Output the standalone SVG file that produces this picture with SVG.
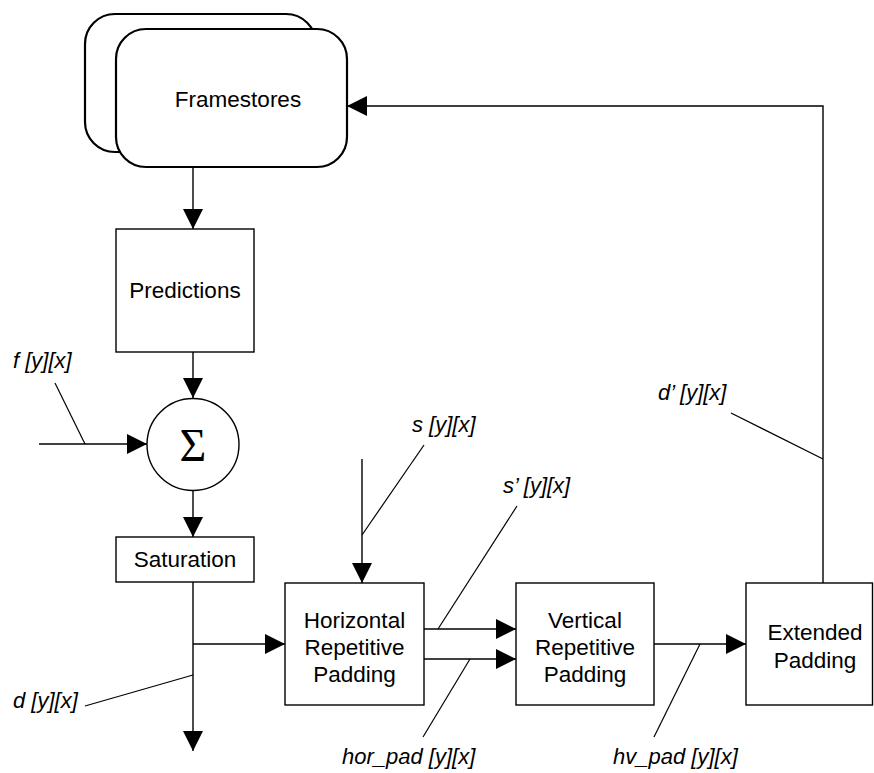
<svg xmlns="http://www.w3.org/2000/svg" width="874" height="773" viewBox="0 0 874 773">
<style>
.box{fill:#fff;stroke:#000;stroke-width:1.4}
.fs{fill:#fff;stroke:#000;stroke-width:2.2}
.t{font-family:"Liberation Sans",Arial,sans-serif;font-size:22.5px;fill:#000;text-anchor:middle}
.lbl{font-family:"Liberation Sans",Arial,sans-serif;font-size:22px;font-style:italic;fill:#000}
.ln{fill:none;stroke:#000;stroke-width:1.4}
.ld{fill:none;stroke:#000;stroke-width:1.2}
</style>
<defs>
<marker id="ah" markerUnits="userSpaceOnUse" markerWidth="20" markerHeight="20" viewBox="0 0 20 20" refX="20" refY="10" orient="auto">
<path d="M0,0 L20,10 L0,20 z" fill="#000"/>
</marker>
</defs>
<g id="framestores">
<rect class="fs" x="85" y="14" width="231" height="138" rx="30" ry="30"/>
<rect class="fs" x="116" y="29" width="231" height="138" rx="30" ry="30"/>
<text class="t" x="238" y="107">Framestores</text>
</g>
<g id="predictions">
<rect class="box" x="116" y="229" width="138" height="123"/>
<text class="t" x="185" y="298">Predictions</text>
</g>
<g id="sum">
<circle class="box" cx="193" cy="444.5" r="46"/>
<text x="193" y="461" font-family="'Liberation Serif','Times New Roman',serif" font-size="46" text-anchor="middle">Σ</text>
</g>
<g id="saturation">
<rect class="box" x="116" y="537" width="138" height="45"/>
<text class="t" x="185" y="567">Saturation</text>
</g>
<g id="horizontal">
<rect class="box" x="285" y="583" width="139" height="122"/>
<text class="t" x="354.5" y="628">Horizontal</text>
<text class="t" x="354.5" y="655">Repetitive</text>
<text class="t" x="354.5" y="682">Padding</text>
</g>
<g id="vertical">
<rect class="box" x="516" y="583" width="138" height="122"/>
<text class="t" x="585" y="628">Vertical</text>
<text class="t" x="585" y="655">Repetitive</text>
<text class="t" x="585" y="682">Padding</text>
</g>
<g id="extended">
<rect class="box" x="746" y="583" width="126.5" height="122"/>
<text class="t" x="815" y="640">Extended</text>
<text class="t" x="815" y="668">Padding</text>
</g>
<g id="connectors">
<path class="ln" d="M193,167 L193,229" marker-end="url(#ah)"/>
<path class="ln" d="M193,352 L193,398" marker-end="url(#ah)"/>
<path class="ln" d="M39,444 L147,444" marker-end="url(#ah)"/>
<path class="ln" d="M193,491 L193,537" marker-end="url(#ah)"/>
<path class="ln" d="M193,582 L193,751" marker-end="url(#ah)"/>
<path class="ln" d="M193,644 L285,644" marker-end="url(#ah)"/>
<path class="ln" d="M362,459 L362,583" marker-end="url(#ah)"/>
<path class="ln" d="M424,629 L516,629" marker-end="url(#ah)"/>
<path class="ln" d="M424,659 L516,659" marker-end="url(#ah)"/>
<path class="ln" d="M654,644 L746,644" marker-end="url(#ah)"/>
<path class="ln" d="M823,583 L823,106 L347,106" marker-end="url(#ah)"/>
<line class="ld" x1="55" y1="383" x2="85" y2="444"/>
<line class="ld" x1="85" y1="706" x2="193" y2="675"/>
<line class="ld" x1="362" y1="535" x2="424" y2="445"/>
<line class="ld" x1="438" y1="629" x2="517" y2="506"/>
<line class="ld" x1="470" y1="659" x2="423" y2="737"/>
<line class="ld" x1="700" y1="644" x2="654" y2="737"/>
<line class="ld" x1="731" y1="413" x2="823" y2="459"/>
</g>
<g id="labels">
<text class="lbl" x="13" y="368">f [y][x]</text>
<text class="lbl" x="412" y="432">s [y][x]</text>
<text class="lbl" x="503" y="493">s’ [y][x]</text>
<text class="lbl" x="658" y="400">d’ [y][x]</text>
<text class="lbl" x="13" y="708">d [y][x]</text>
<text class="lbl" x="342" y="764">hor_pad [y][x]</text>
<text class="lbl" x="613" y="764">hv_pad [y][x]</text>
</g>
</svg>
